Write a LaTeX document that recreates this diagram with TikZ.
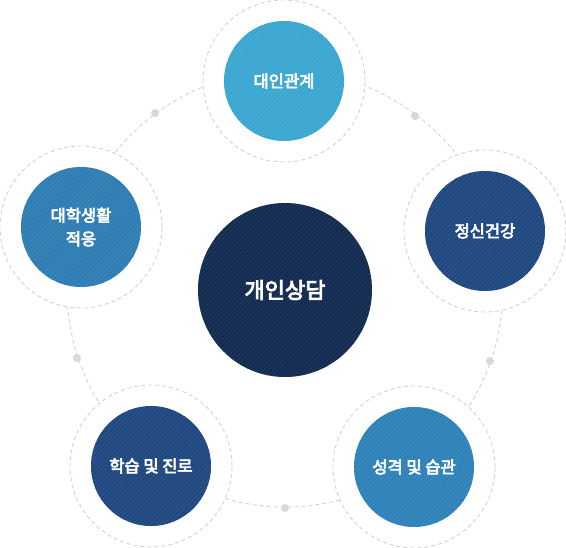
\documentclass[tikz,border=0pt]{standalone}
\usepackage{fontspec}
\newfontfamily\kr[FakeBold=4]{Noto Sans CJK KR}
\usetikzlibrary{patterns.meta}
\definecolor{cTop}{HTML}{3BA7D1}
\definecolor{cLeft}{HTML}{2E7DB4}
\definecolor{cDark}{HTML}{1F4880}
\definecolor{cBR}{HTML}{2F82B9}
\definecolor{cCenter}{HTML}{132A51}
\definecolor{cDash}{HTML}{D2D2D2}
\definecolor{cDot}{HTML}{D8D8D8}
\tikzset{
  ring/.style={circle, draw=cDash, line width=0.9pt, dash pattern=on 4pt off 3pt, fill=white, minimum size=162pt, inner sep=0pt},
  bubble/.style={circle, preaction={fill=#1}, pattern={Lines[angle=45,distance=3.2pt,line width=0.45pt]}, pattern color=#1!88!white, minimum size=120pt, inner sep=0pt},
  label/.style={text=white, align=center, font=\kr\fontsize{16.5}{23.5}\selectfont},
  orbitdot/.style={circle, fill=cDot, minimum size=8pt, inner sep=0pt},
}
\begin{document}
\begin{tikzpicture}[x=1pt,y=-1pt]
\useasboundingbox (0,0) rectangle (566,548);
% orbit
\coordinate (o) at (285,289);
\draw[cDash, line width=0.9pt, dash pattern=on 4pt off 3pt] (o) circle[radius=218];
\node[orbitdot] (d1) at (155,113) {};
\node[orbitdot] (d2) at (415,116) {};
\node[orbitdot] (d3) at (490,361) {};
\node[orbitdot] (d4) at (285,508) {};
\node[orbitdot] (d5) at (77,358) {};
% rings
\node[ring] (r1) at (284,81) {};
\node[ring] (r2) at (485,231) {};
\node[ring] (r3) at (414,467) {};
\node[ring] (r4) at (151,466) {};
\node[ring] (r5) at (81,227) {};
% bubbles
\node[bubble=cTop] (b1) at (284,81) {};
\node[label] (t1) at (b1) {대인관계};
\node[bubble=cDark] (b2) at (485,231) {};
\node[label] (t2) at (b2) {정신건강};
\node[bubble=cBR] (b3) at (414,467) {};
\node[label] (t3) at (b3) {성격 및 습관};
\node[bubble=cDark] (b4) at (151,466) {};
\node[label] (t4) at (b4) {학습 및 진로};
\node[bubble=cLeft] (b5) at (81,227) {};
\node[label] (t5) at (b5) {대학생활\\적응};
% center
\node[bubble=cCenter, minimum size=174pt] (c) at (285,290) {};
\node[label, font=\kr\fontsize{22}{26}\selectfont] (ct) at (c) {개인상담};
\end{tikzpicture}
\end{document}
